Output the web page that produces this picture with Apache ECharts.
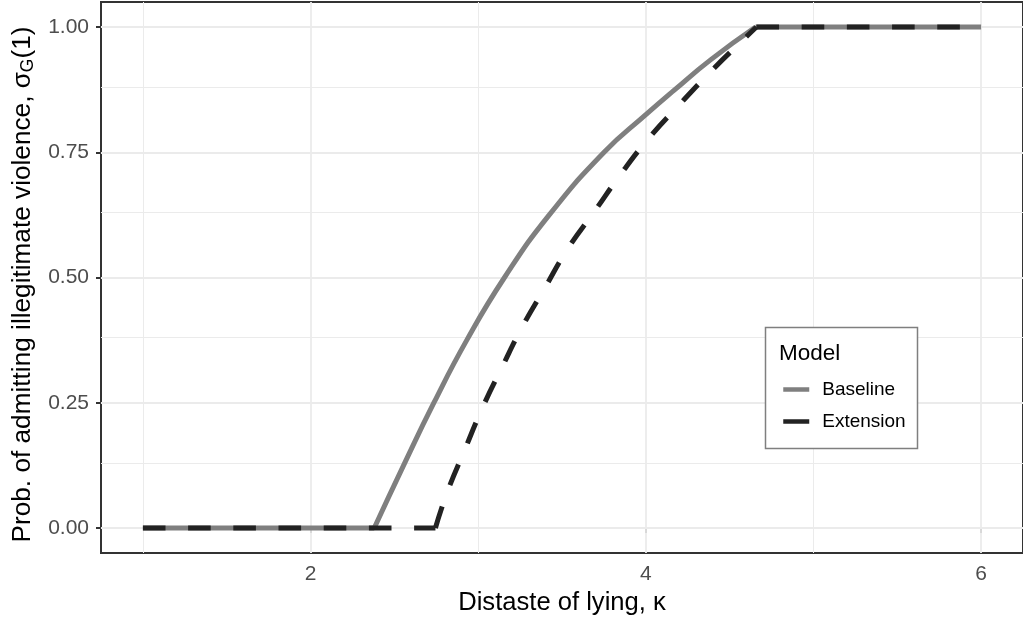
<!DOCTYPE html>
<html>
<head>
<meta charset="utf-8">
<script src="https://cdn.jsdelivr.net/npm/echarts@6/dist/echarts.min.js"></script>
<style>
html,body{margin:0;padding:0;background:#fff;}
#chart{width:1023px;height:621px;}
</style>
</head>
<body>
<div id="chart"></div>
<script>
// ---- data ----
const kappaRange = [1, 6];
// Baseline: 0 up to its kink, then the rising curve, then 1 after the peak
const baselineKappa = [2.38, 2.555, 2.736, 2.932, 3.157, 3.424, 3.751, 4.0,   4.166, 4.388, 4.655];
const baselineProb  = [0,    0.125, 0.25,  0.375, 0.5,   0.625, 0.75,  0.825, 0.873, 0.935, 1];
// Extension
const extensionKappa = [2.745, 2.815, 2.92, 3.023, 3.141, 3.264, 3.399, 3.53, 3.696, 3.85, 4.018, 4.2, 4.384, 4.576, 4.66];
const extensionProb  = [0,     0.071, 0.156, 0.238, 0.32, 0.402, 0.48, 0.555, 0.633, 0.706, 0.778, 0.845, 0.91, 0.973, 1];

const xTicks = [2, 4, 6];
const xMinorGrid = [1, 3, 5];
const yTicks = [0, 0.25, 0.5, 0.75, 1];
const yMinorGrid = [0.125, 0.375, 0.625, 0.875];

const seriesNames = ['Baseline', 'Extension'];
const legendTitle = 'Model';
const xTitle = 'Distaste of lying, κ';
const yTitle = 'Prob. of admitting illegitimate violence, σ{sub|G}(1)';

function pairs(xs, ys) { return xs.map((x, i) => [x, ys[i]]); }
// flat parts before the first and after the last curve point, broken in between
function flats(xs, ys) {
  const n = xs.length;
  return [[kappaRange[0], ys[0]], [xs[0], ys[0]], [(xs[0] + xs[n - 1]) / 2, null],
          [xs[n - 1], ys[n - 1]], [kappaRange[1], ys[n - 1]]];
}

const gridLines = [];
xTicks.forEach(v => gridLines.push({ xAxis: v, lineStyle: { color: '#ebebeb', width: 1.8, type: 'solid' } }));
xMinorGrid.forEach(v => gridLines.push({ xAxis: v, lineStyle: { color: '#ebebeb', width: 1.0, type: 'solid' } }));
yTicks.forEach(v => gridLines.push({ yAxis: v, lineStyle: { color: '#ebebeb', width: 1.8, type: 'solid' } }));
yMinorGrid.forEach(v => gridLines.push({ yAxis: v, lineStyle: { color: '#ebebeb', width: 1.0, type: 'solid' } }));

const chart = echarts.init(document.getElementById('chart'), null, { renderer: 'canvas' });
const font = 'Liberation Sans, Arial, Helvetica, sans-serif';

const baseStyle = { color: '#7f7f7f', width: 5, type: 'solid' };
const extStyle = { color: '#222', width: 5, type: [22.6, 22.6] };

chart.setOption({
  animation: false,
  textStyle: { fontFamily: font },
  grid: {
    left: 101, top: 2, right: -4, bottom: 68,
    show: true, backgroundColor: '#fff', borderColor: '#333', borderWidth: 2
  },
  xAxis: {
    type: 'value', min: 0.75, max: 6.25,
    name: xTitle, nameLocation: 'middle', nameGap: 37,
    nameTextStyle: { fontSize: 25.6, color: '#000', fontFamily: font },
    axisLine: { show: true, lineStyle: { color: '#333', width: 2 } },
    axisTick: { show: true, length: 5, lineStyle: { color: '#333', width: 2 }, customValues: xTicks },
    axisLabel: { customValues: xTicks, fontSize: 21, color: '#4d4d4d', margin: 11, fontFamily: font },
    splitLine: { show: false }
  },
  yAxis: {
    type: 'value', min: -0.05, max: 1.05,
    name: yTitle,
    nameLocation: 'middle', nameGap: 62, nameRotate: 90,
    nameTextStyle: {
      fontSize: 26.2, color: '#000', fontFamily: font, padding: [0, 14, 0, 0],
      rich: { sub: { fontSize: 17.5, color: '#000', fontFamily: font, padding: [10, 0, 0, 0] } }
    },
    axisLine: { show: true, lineStyle: { color: '#333', width: 2 } },
    axisTick: { show: true, length: 5, lineStyle: { color: '#333', width: 2 }, customValues: yTicks },
    axisLabel: { customValues: yTicks, fontSize: 21, color: '#4d4d4d', margin: 12, fontFamily: font,
      formatter: v => v.toFixed(2) },
    splitLine: { show: false }
  },
  legend: {
    orient: 'vertical', left: 781, top: 380, itemGap: 13, padding: 0,
    itemWidth: 26, itemHeight: 14, z: 5,
    textStyle: { fontSize: 19, color: '#000', fontFamily: font, padding: [0, 0, 0, 8] },
    data: [
      { name: seriesNames[0], lineStyle: { type: 'solid', width: 4.5 }, itemStyle: { opacity: 0 } },
      { name: seriesNames[1], lineStyle: { type: 'solid', width: 4.5 }, itemStyle: { opacity: 0 } }
    ]
  },
  graphic: [
    { type: 'rect', z: 3, shape: { x: 765.5, y: 327.5, width: 152, height: 121 },
      style: { fill: '#fff', stroke: '#7f7f7f', lineWidth: 1.5 } },
    { type: 'text', z: 4, x: 779, y: 354,
      style: { text: legendTitle, fontSize: 22.5, fill: '#000', fontFamily: font, verticalAlign: 'middle', align: 'left' } }
  ],
  series: [
    {
      name: '__grid', type: 'line', data: [], z: 1, silent: true,
      markLine: { silent: true, z: 1, symbol: 'none', label: { show: false }, animation: false, data: gridLines }
    },
    {
      name: seriesNames[0], type: 'line', data: pairs(baselineKappa, baselineProb),
      showSymbol: false, symbol: 'none', smooth: 0.5, z: 3,
      lineStyle: baseStyle, itemStyle: { color: '#7f7f7f', opacity: 0 }
    },
    {
      name: seriesNames[0], type: 'line', data: flats(baselineKappa, baselineProb),
      showSymbol: false, symbol: 'none', connectNulls: false, z: 3,
      lineStyle: baseStyle, itemStyle: { color: '#7f7f7f', opacity: 0 }
    },
    {
      name: seriesNames[1], type: 'line', data: pairs(extensionKappa, extensionProb),
      showSymbol: false, symbol: 'none', smooth: 0.5, z: 4,
      lineStyle: extStyle, itemStyle: { color: '#222', opacity: 0 }
    },
    {
      name: seriesNames[1], type: 'line', data: flats(extensionKappa, extensionProb),
      showSymbol: false, symbol: 'none', connectNulls: false, z: 4,
      lineStyle: extStyle, itemStyle: { color: '#222', opacity: 0 }
    }
  ]
});
</script>
</body>
</html>
